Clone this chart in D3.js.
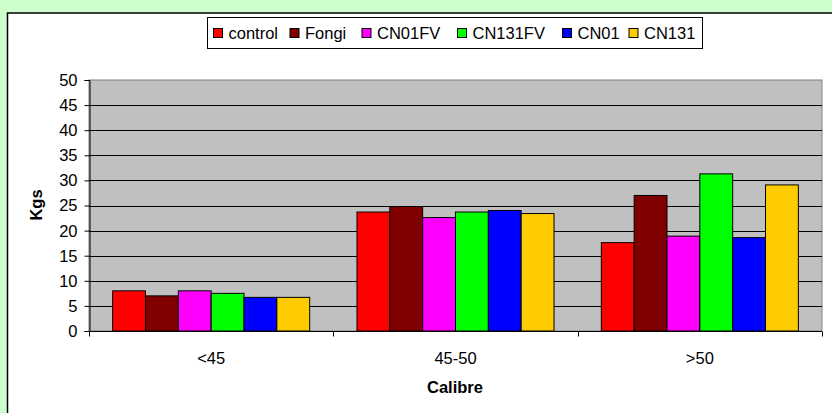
<!DOCTYPE html>
<html><head><meta charset="utf-8">
<script src="https://cdn.jsdelivr.net/npm/d3@7"></script>
<style>body{margin:0;background:#ccffcc;}svg{display:block;font-family:"Liberation Sans",Arial,sans-serif;}</style>
</head><body>
<svg id="c" width="832" height="413"></svg>
<script>
const categories = ["<45", "45-50", ">50"];
const seriesNames = ["control", "Fongi", "CN01FV", "CN131FV", "CN01", "CN131"];
const seriesColors = ["#ff0000", "#800000", "#ff00ff", "#00ff00", "#0000ff", "#ffcc00"];
const control = [8.0, 23.7, 17.6];
const fongi = [7.0, 24.8, 27.0];
const cn01fv = [8.0, 22.6, 18.9];
const cn131fv = [7.5, 23.7, 31.3];
const cn01 = [6.7, 24.0, 18.6];
const cn131 = [6.7, 23.4, 29.1];
const yTicks = [0, 5, 10, 15, 20, 25, 30, 35, 40, 45, 50];
const seriesValues = [control, fongi, cn01fv, cn131fv, cn01, cn131];

const FS = 16.5;
const svg = d3.select("#c");
svg.append("rect").attr("x", 0).attr("y", 0).attr("width", 832).attr("height", 413).attr("fill", "#ccffcc");
svg.append("rect").attr("x", 7.5).attr("y", 13).attr("width", 830).attr("height", 410)
  .attr("fill", "#fff").attr("stroke", "#000").attr("stroke-width", 1.5);

const L = 89, R = 822, T = 80, B = 331;
const x = d3.scaleBand().domain(categories).range([L, R]);
const y = d3.scaleLinear().domain([0, 50]).range([B, T]);
const inner = d3.scaleBand().domain(seriesNames).range([0, x.bandwidth()]).paddingOuter(0.72).paddingInner(0);

svg.append("rect").attr("x", L).attr("y", T).attr("width", R - L).attr("height", B - T)
  .attr("fill", "#c0c0c0").attr("stroke", "#808080").attr("stroke-width", 1);

svg.append("g").selectAll("line").data(yTicks.filter(d => d > 0 && d < 50)).join("line")
  .attr("x1", L).attr("x2", R).attr("y1", d => Math.round(y(d)) + 0.5).attr("y2", d => Math.round(y(d)) + 0.5)
  .attr("stroke", "#000").attr("stroke-width", 1);

const g = svg.append("g");
seriesNames.forEach((s, i) => {
  g.selectAll(null).data(seriesValues[i]).join("rect")
    .attr("x", (d, j) => x(categories[j]) + inner(s))
    .attr("y", d => y(d))
    .attr("width", inner.bandwidth())
    .attr("height", d => B - y(d))
    .attr("fill", seriesColors[i]).attr("stroke", "#000").attr("stroke-width", 1);
});

const yAxis = d3.axisLeft(y).tickValues(yTicks).tickSize(5).tickPadding(7);
const ya = svg.append("g").attr("transform", `translate(${L + 0.5},0)`).call(yAxis);
ya.attr("font-size", null).attr("font-family", null);
ya.select(".domain").attr("stroke", "#000");
ya.selectAll("line").attr("stroke", "#000");
ya.selectAll("text").attr("font-size", FS).attr("fill", "#000").attr("dy", "0.33em");

const xa = svg.append("g").attr("transform", `translate(0,${B + 0.5})`);
xa.append("line").attr("x1", L).attr("x2", R).attr("stroke", "#000");
const bounds = [L, L + x.step(), L + 2 * x.step(), R];
xa.selectAll(".tk").data(bounds).join("line").attr("class", "tk")
  .attr("x1", d => Math.round(d) + 0.5).attr("x2", d => Math.round(d) + 0.5).attr("y1", 0).attr("y2", 5).attr("stroke", "#000");
xa.selectAll("text").data(categories).join("text")
  .attr("x", d => x(d) + x.bandwidth() / 2).attr("y", 363 - B)
  .attr("text-anchor", "middle").attr("font-size", FS).text(d => d);

svg.append("text").attr("x", 455).attr("y", 393).attr("text-anchor", "middle")
  .attr("font-size", FS).attr("font-weight", "bold").text("Calibre");
svg.append("text").attr("transform", "translate(42,205) rotate(-90)").attr("text-anchor", "middle")
  .attr("font-size", FS).attr("font-weight", "bold").text("Kgs");

// legend
const lg = svg.append("g");
lg.append("rect").attr("x", 207.5).attr("y", 17.5).attr("width", 495).attr("height", 31)
  .attr("fill", "#fff").attr("stroke", "#000");
const legX = [213, 289.5, 361.5, 457, 562, 628.5];
seriesNames.forEach((s, i) => {
  lg.append("rect").attr("x", legX[i] + 0.5).attr("y", 28.5).attr("width", 9).attr("height", 9)
    .attr("fill", seriesColors[i]).attr("stroke", "#000");
  lg.append("text").attr("x", legX[i] + 15.5).attr("y", 38.5).attr("font-size", FS).text(s);
});
</script>
</body></html>
